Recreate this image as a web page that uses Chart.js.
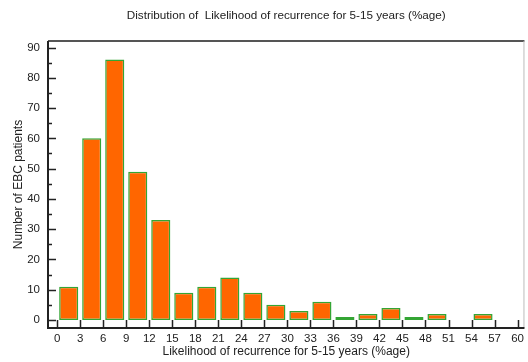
<!DOCTYPE html>
<html><head><meta charset="utf-8">
<script src="https://cdn.jsdelivr.net/npm/chart.js@4/dist/chart.umd.min.js"></script>
<style>html,body{margin:0;padding:0;background:#fff}#wrap{width:528px;height:362px}</style>
</head><body><div id="wrap"><canvas id="c" width="528" height="362"></canvas></div>
<script>
const chartTitle = 'Distribution of  Likelihood of recurrence for 5-15 years (%age)';
const xTitle = 'Likelihood of recurrence for 5-15 years (%age)';
const yTitle = 'Number of EBC patients';
const binStarts = [0,3,6,9,12,15,18,21,24,27,30,33,36,39,42,45,48,51,54,57];
const binWidth = 3;
const counts = [11,60,86,49,33,9,11,14,9,5,3,6,1,2,4,1,2,0,2,0];
const xTickValues = [0,3,6,9,12,15,18,21,24,27,30,33,36,39,42,45,48,51,54,57,60];
const yTickValues = [0,10,20,30,40,50,60,70,80,90];
const yMinorTickValues = [5,15,25,35,45,55,65,75,85];

const FONT = '"Liberation Sans", Arial, sans-serif';

const framePlugin = {
  id: 'frame',
  afterDraw(chart) {
    const {ctx, chartArea: a, scales: {x, y}} = chart;
    ctx.save();
    ctx.strokeStyle = '#555'; ctx.lineWidth = 2;
    ctx.beginPath(); ctx.moveTo(a.left, a.top); ctx.lineTo(a.right, a.top); ctx.stroke();
    ctx.strokeStyle = '#bbb'; ctx.lineWidth = 1;
    ctx.beginPath(); ctx.moveTo(a.right - 0.5, a.top); ctx.lineTo(a.right - 0.5, a.bottom); ctx.stroke();
    ctx.strokeStyle = '#222'; ctx.lineWidth = 2;
    ctx.beginPath(); ctx.moveTo(a.left, a.top); ctx.lineTo(a.left, a.bottom); ctx.lineTo(a.right, a.bottom); ctx.stroke();
    ctx.lineWidth = 1.5;
    ctx.beginPath();
    yTickValues.forEach(v => { const p = Math.round(y.getPixelForValue(v)) + 0.5; ctx.moveTo(a.left, p); ctx.lineTo(a.left + 8, p); });
    yMinorTickValues.forEach(v => { const p = Math.round(y.getPixelForValue(v)) + 0.5; ctx.moveTo(a.left, p); ctx.lineTo(a.left + 4, p); });
    const y0 = y.getPixelForValue(0);
    xTickValues.forEach(v => { const p = Math.round(x.getPixelForValue(v)) + 0.5; ctx.moveTo(p, a.bottom); ctx.lineTo(p, y0); });
    ctx.stroke();
    ctx.restore();
  }
};

new Chart(document.getElementById('c'), {
  type: 'bar',
  data: {
    datasets: [{
      data: binStarts.map((s, i) => ({x: s + binWidth / 2, y: counts[i]})),
      backgroundColor: '#FF6600',
      borderColor: '#34a534',
      borderWidth: 1.5,
      borderSkipped: false,
      categoryPercentage: 1,
      barPercentage: 0.83
    }]
  },
  options: {
    responsive: false,
    devicePixelRatio: 1,
    animation: false,
    layout: {padding: {left: 0, right: 1, top: 0, bottom: 0}},
    plugins: {
      legend: {display: false},
      tooltip: {enabled: false},
      title: {
        display: true, text: chartTitle, fullSize: false,
        color: '#222', font: {family: FONT, size: 11.7, weight: 'normal'},
        padding: {top: 9, bottom: 17.96}
      }
    },
    scales: {
      x: {
        type: 'linear', offset: false,
        min: -1.2, max: 60.9,
        afterBuildTicks: s => { s.ticks = xTickValues.map(v => ({value: v})); },
        afterFit: s => { s.height = 34; },
        grid: {display: false, drawTicks: false},
        border: {display: false},
        ticks: {color: '#222', font: {family: FONT, size: 11.5}, padding: 4, maxRotation: 0, autoSkip: false},
        title: {display: true, text: xTitle, color: '#222', font: {family: FONT, size: 12}, padding: {top: 0, bottom: 3}}
      },
      y: {
        min: -2.64, max: 92.15,
        afterBuildTicks: s => { s.ticks = yTickValues.map(v => ({value: v})); },
        afterFit: s => { s.width = 48; },
        grid: {display: false, drawTicks: false},
        border: {display: false},
        ticks: {color: '#222', font: {family: FONT, size: 11.5}, padding: 8},
        title: {display: true, text: yTitle, color: '#222', font: {family: FONT, size: 12}, padding: {top: 11, bottom: 0}}
      }
    }
  },
  plugins: [framePlugin]
});
</script>
</body></html>
